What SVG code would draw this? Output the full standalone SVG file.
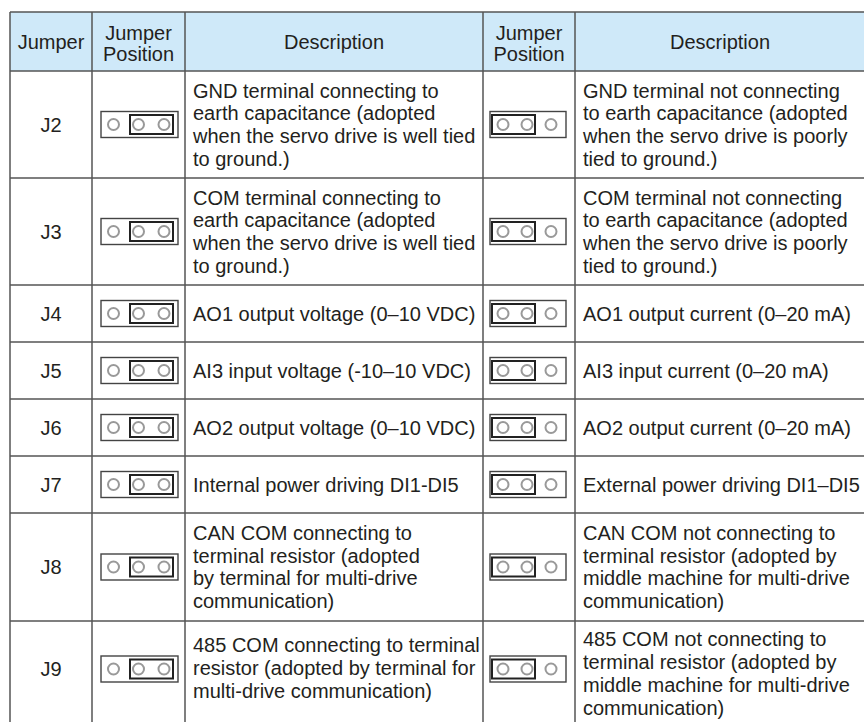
<svg xmlns="http://www.w3.org/2000/svg" xmlns:xlink="http://www.w3.org/1999/xlink" width="864" height="722" viewBox="0 0 864 722">
<style>
text{font-family:"Liberation Sans",Arial,sans-serif;font-size:20px;fill:#231f20}
.c{text-anchor:middle}
.grid{stroke:#555;stroke-width:1.5;fill:none}
.outer{fill:#fff;stroke:#444;stroke-width:1.4}
.inner{fill:none;stroke:#222;stroke-width:2}
.pin{fill:#fff;stroke:#999;stroke-width:2}
</style>
<defs>
<g id="jpL">
<rect class="outer" x="-38.5" y="-13" width="77" height="26"/>
<circle class="pin" cx="-26" cy="0" r="5.5"/>
<circle class="pin" cx="-1" cy="0" r="5.5"/>
<circle class="pin" cx="24.5" cy="0" r="5.5"/>
<rect class="inner" x="-9.5" y="-9.5" width="43" height="19"/>
</g>
<g id="jpR">
<rect class="outer" x="-38" y="-13" width="76" height="26"/>
<circle class="pin" cx="-25" cy="0" r="5.5"/>
<circle class="pin" cx="-1" cy="0" r="5.5"/>
<circle class="pin" cx="23" cy="0" r="5.5"/>
<rect class="inner" x="-36" y="-9.5" width="43" height="19"/>
</g>
</defs>
<rect x="0" y="0" width="864" height="722" fill="#fff"/>
<g id="header">
<rect x="10" y="12" width="860" height="59" fill="#cfe9f9"/>
<text class="c" x="51" y="48.5">Jumper</text>
<text class="c" x="138.5" y="39.5">Jumper</text>
<text class="c" x="138.5" y="61">Position</text>
<text class="c" x="334" y="48.5">Description</text>
<text class="c" x="529" y="39.5">Jumper</text>
<text class="c" x="529" y="61">Position</text>
<text class="c" x="720" y="48.5">Description</text>
</g>
<g id="connectors">
<path class="grid" d="M10 12H870M10 71H870M10 178H870M10 285H870M10 342H870M10 399H870M10 456H870M10 513H870M10 621H870M10 12V730M92 12V730M185 12V730M483 12V730M575 12V730"/>
</g>
<g id="J2">
<text class="c" x="51" y="131.5">J2</text>
<use xlink:href="#jpL" x="139.5" y="124.5"/>
<text x="193" y="97.5">GND terminal connecting to</text>
<text x="193" y="120.2">earth capacitance (adopted</text>
<text x="193" y="142.9">when the servo drive is well tied</text>
<text x="193" y="165.6">to ground.)</text>
<use xlink:href="#jpR" x="528" y="124.5"/>
<text x="583" y="97.5">GND terminal not connecting</text>
<text x="583" y="120.2">to earth capacitance (adopted</text>
<text x="583" y="142.9">when the servo drive is poorly</text>
<text x="583" y="165.6">tied to ground.)</text>
</g>
<g id="J3">
<text class="c" x="51" y="238.5">J3</text>
<use xlink:href="#jpL" x="139.5" y="231.5"/>
<text x="193" y="204.5">COM terminal connecting to</text>
<text x="193" y="227.2">earth capacitance (adopted</text>
<text x="193" y="249.9">when the servo drive is well tied</text>
<text x="193" y="272.6">to ground.)</text>
<use xlink:href="#jpR" x="528" y="231.5"/>
<text x="583" y="204.5">COM terminal not connecting</text>
<text x="583" y="227.2">to earth capacitance (adopted</text>
<text x="583" y="249.9">when the servo drive is poorly</text>
<text x="583" y="272.6">tied to ground.)</text>
</g>
<g id="J4">
<text class="c" x="51" y="320.5">J4</text>
<use xlink:href="#jpL" x="139.5" y="313.5"/>
<text x="193" y="320.5">AO1 output voltage (0–10 VDC)</text>
<use xlink:href="#jpR" x="528" y="313.5"/>
<text x="583" y="320.5">AO1 output current (0–20 mA)</text>
</g>
<g id="J5">
<text class="c" x="51" y="377.5">J5</text>
<use xlink:href="#jpL" x="139.5" y="370.5"/>
<text x="193" y="377.5">AI3 input voltage (-10–10 VDC)</text>
<use xlink:href="#jpR" x="528" y="370.5"/>
<text x="583" y="377.5">AI3 input current (0–20 mA)</text>
</g>
<g id="J6">
<text class="c" x="51" y="434.5">J6</text>
<use xlink:href="#jpL" x="139.5" y="427.5"/>
<text x="193" y="434.5">AO2 output voltage (0–10 VDC)</text>
<use xlink:href="#jpR" x="528" y="427.5"/>
<text x="583" y="434.5">AO2 output current (0–20 mA)</text>
</g>
<g id="J7">
<text class="c" x="51" y="491.5">J7</text>
<use xlink:href="#jpL" x="139.5" y="484.5"/>
<text x="193" y="491.5">Internal power driving DI1-DI5</text>
<use xlink:href="#jpR" x="528" y="484.5"/>
<text x="583" y="491.5">External power driving DI1–DI5</text>
</g>
<g id="J8">
<text class="c" x="51" y="574">J8</text>
<use xlink:href="#jpL" x="139.5" y="567"/>
<text x="193" y="540">CAN COM connecting to</text>
<text x="193" y="562.7">terminal resistor (adopted</text>
<text x="193" y="585.4">by terminal for multi-drive</text>
<text x="193" y="608.1">communication)</text>
<use xlink:href="#jpR" x="528" y="567"/>
<text x="583" y="540">CAN COM not connecting to</text>
<text x="583" y="562.7">terminal resistor (adopted by</text>
<text x="583" y="585.4">middle machine for multi-drive</text>
<text x="583" y="608.1">communication)</text>
</g>
<g id="J9">
<text class="c" x="51" y="676">J9</text>
<use xlink:href="#jpL" x="139.5" y="669"/>
<text x="193" y="652">485 COM connecting to terminal</text>
<text x="193" y="675">resistor (adopted by terminal for</text>
<text x="193" y="698">multi-drive communication)</text>
<use xlink:href="#jpR" x="528" y="669"/>
<text x="583" y="646">485 COM not connecting to</text>
<text x="583" y="669">terminal resistor (adopted by</text>
<text x="583" y="692">middle machine for multi-drive</text>
<text x="583" y="715">communication)</text>
</g>
</svg>
